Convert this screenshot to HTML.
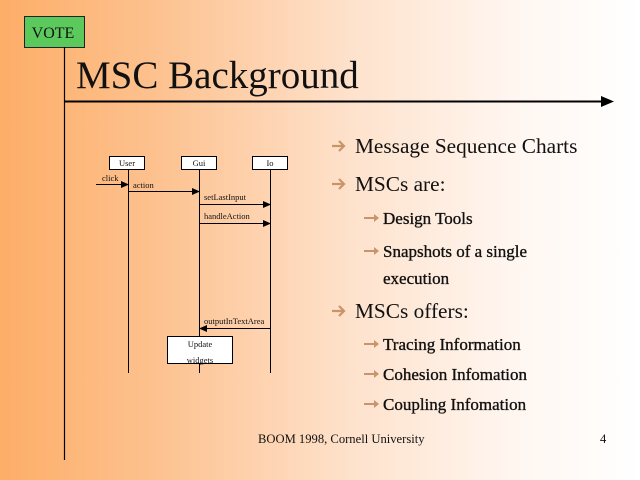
<!DOCTYPE html>
<html><head><meta charset="utf-8"><style>
html,body{margin:0;padding:0}
body{width:640px;height:480px;overflow:hidden;background:linear-gradient(to right,#fdae68 0%,#fdc290 25%,#fee2cc 55%,#fff6f0 80%,#ffffff 100%)}
svg{display:block;font-family:"Liberation Serif",serif}
</style></head><body>
<svg width="640" height="480" viewBox="0 0 640 480">
<defs><marker id="a" markerWidth="8" markerHeight="8" refX="7" refY="4" orient="auto" markerUnits="userSpaceOnUse"><path d="M0,0.5 L8,4 L0,7.5z" fill="#000"/></marker></defs>
<rect x="24.5" y="16.5" width="60" height="31" fill="#5cc95c" stroke="#222"/>
<text x="53" y="38" font-size="16" text-anchor="middle" fill="#111">VOTE</text>
<line x1="64.5" y1="47" x2="64.5" y2="460" stroke="#000" stroke-width="1.2"/>
<text x="76" y="88" font-size="39" fill="#111">MSC Background</text>
<line x1="64" y1="101.5" x2="604" y2="101.5" stroke="#000" stroke-width="2"/>
<path d="M601,96 L614,101.5 L601,107z" fill="#000"/>
<g stroke="#000" stroke-width="1" fill="#fff">
<rect x="109.5" y="156.5" width="35" height="13"/>
<rect x="181.5" y="156.5" width="35" height="13"/>
<rect x="252.5" y="156.5" width="35" height="13"/>
<line x1="128.5" y1="169" x2="128.5" y2="373"/>
<line x1="199.5" y1="169" x2="199.5" y2="373"/>
<line x1="270.5" y1="169" x2="270.5" y2="373"/>
<line x1="96" y1="184.5" x2="128" y2="184.5" marker-end="url(#a)"/>
<line x1="128" y1="191.5" x2="199" y2="191.5" marker-end="url(#a)"/>
<line x1="199" y1="204.5" x2="270" y2="204.5" marker-end="url(#a)"/>
<line x1="199" y1="223.5" x2="270" y2="223.5" marker-end="url(#a)"/>
<line x1="270" y1="328.5" x2="200" y2="328.5" marker-end="url(#a)"/>
<rect x="167.5" y="336.5" width="65" height="27"/>
</g>
<g font-size="8.5" fill="#111">
<text x="127" y="166" text-anchor="middle">User</text>
<text x="199" y="166" text-anchor="middle">Gui</text>
<text x="270" y="166" text-anchor="middle">Io</text>
<text x="102" y="181">click</text>
<text x="133" y="188">action</text>
<text x="204" y="200">setLastInput</text>
<text x="204" y="219">handleAction</text>
<text x="204" y="324">outputInTextArea</text>
<text x="200" y="347" text-anchor="middle">Update</text>
<text x="200" y="363" text-anchor="middle">widgets</text>
</g>
<g fill="#c8956a" stroke="#c8956a">
<path d="M332,146 h12 M339,141 l5,5 l-5,5" stroke-width="2.2" fill="none"/>
<path d="M332,184 h12 M339,179 l5,5 l-5,5" stroke-width="2.2" fill="none"/>
<path d="M332,311 h12 M339,306 l5,5 l-5,5" stroke-width="2.2" fill="none"/>
<g stroke="none">
<path d="M364,217 h10 v-3 l5,4 l-5,4 v-3 h-10z"/>
<path d="M364,250 h10 v-3 l5,4 l-5,4 v-3 h-10z"/>
<path d="M364,343 h10 v-3 l5,4 l-5,4 v-3 h-10z"/>
<path d="M364,373 h10 v-3 l5,4 l-5,4 v-3 h-10z"/>
<path d="M364,403 h10 v-3 l5,4 l-5,4 v-3 h-10z"/>
</g>
</g>
<g fill="#111">
<text x="355" y="153" font-size="21.3">Message Sequence Charts</text>
<text x="355" y="191" font-size="21.3">MSCs are:</text>
<text x="355" y="318" font-size="21.3">MSCs offers:</text>
<g font-size="17" stroke="#111" stroke-width="0.35">
<text x="383" y="224">Design Tools</text>
<text x="383" y="257">Snapshots of a single</text>
<text x="383" y="284">execution</text>
<text x="383" y="350">Tracing Information</text>
<text x="383" y="380">Cohesion Infomation</text>
<text x="383" y="410">Coupling Infomation</text>
</g>
<text x="258" y="443" font-size="12.6">BOOM 1998, Cornell University</text>
<text x="600" y="443" font-size="12.6">4</text>
</g>
</svg>
</body></html>
